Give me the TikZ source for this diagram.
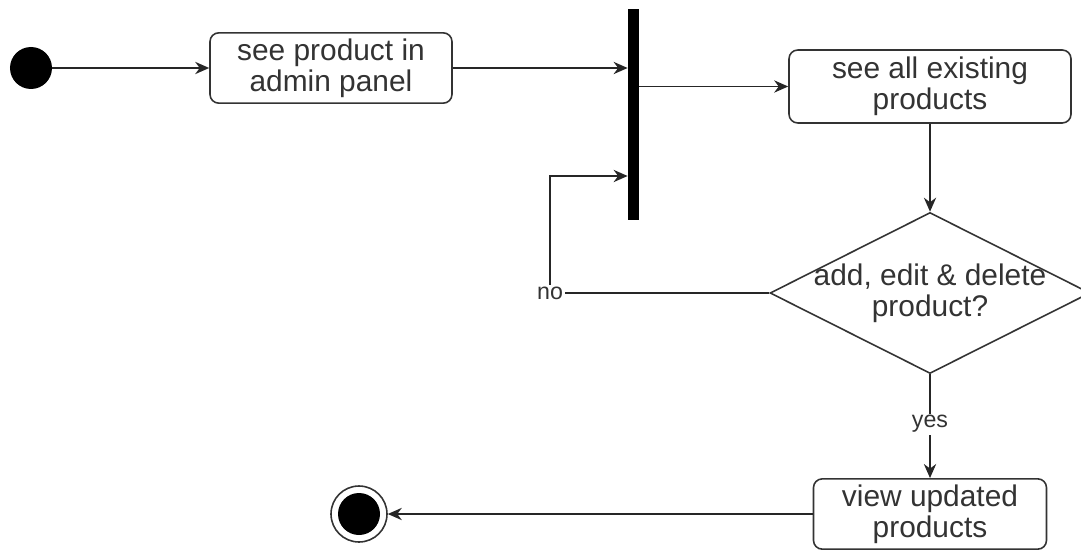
\documentclass[tikz,border=0pt]{standalone}
\usepackage{fontspec}
\setmainfont{Liberation Sans}
\usepackage{tikz}
\usetikzlibrary{shapes.geometric, arrows.meta, positioning, calc}

\begin{document}
\begin{tikzpicture}[>={Stealth[length=8pt, width=7pt]},
  act/.style={rectangle, rounded corners=5pt, draw=black!80, line width=0.9pt,
              align=center, text=black!80, font=\fontsize{17}{17.5}\selectfont},
  dec/.style={diamond, draw=black!80, line width=0.9pt, inner sep=0pt,
              minimum width=6.4cm, minimum height=3.22cm},
  dectext/.style={align=center, text=black!80, font=\fontsize{17}{17.5}\selectfont},
  initial/.style={circle, fill=black, minimum size=0.84cm, inner sep=0pt},
  endstate/.style={circle, draw=black!80, line width=0.9pt, minimum size=1.12cm, inner sep=0pt,
                   path picture={\fill[black] (path picture bounding box.center) circle (0.42cm);}},
  sync/.style={rectangle, fill=black, minimum width=0.22cm, minimum height=4.22cm, inner sep=0pt},
  arr/.style={->, line width=0.9pt, color=black!85},
  lbl/.style={font=\fontsize{13.2}{14}\selectfont, text=black!80, fill=white, inner sep=1pt}
]
\useasboundingbox (0,0) rectangle (21.62,-11);

%% ---- Top row ----
\node[initial] (start)  at ( 0.62, -1.36) {};
\node[act, minimum width=4.84cm, minimum height=1.36cm] (seeprod) at ( 6.62, -1.36) {see product in\\admin panel};
\node[sync]    (fork)   at (12.67, -2.29) {};
\node[act, minimum width=5.64cm, minimum height=1.46cm] (seeall)  at (18.60, -1.73) {see all existing\\products};

%% ---- Decision and bottom row ----
\node[dec, label={[dectext]center:{add, edit \& delete\\product?}}] (choice) at (18.60, -5.86) {};
\node[act, minimum width=4.66cm, minimum height=1.32cm] (viewupd) at (18.60, -10.28) {view updated\\products};
\node[endstate] (final) at ( 7.18, -10.28) {};

\coordinate (loopup) at (11.0, -3.52);

%% ---- Arrows ----
\draw[arr] (start) -- (seeprod);
\draw[arr] (seeprod.east) -- (seeprod.east -| fork.west);
\draw[arr] (fork.east |- seeall.west) -- (seeall.west);
\draw[arr] (seeall) -- (choice);
% "no" loops back into the bar
\draw[arr] (choice.west) -| node[lbl, pos=0.5]{no} (loopup) -- (loopup -| fork.west);
\draw[arr] (choice) -- node[lbl, pos=0.48]{yes} (viewupd);
\draw[arr] (viewupd) -- (final);

\end{tikzpicture}
\end{document}
